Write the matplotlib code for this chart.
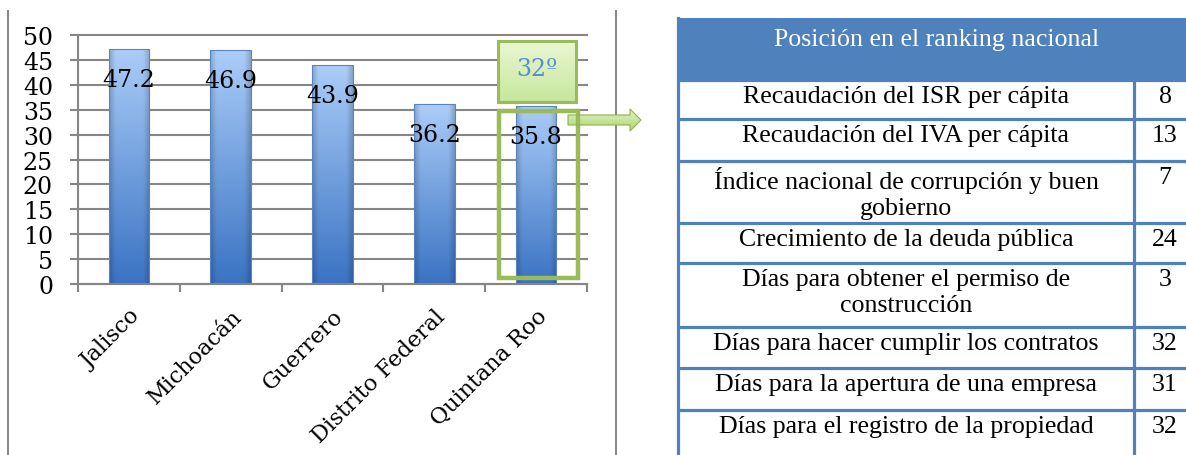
import numpy as np
import matplotlib
matplotlib.use('Agg')
import matplotlib.pyplot as plt
from matplotlib.patches import Rectangle, Polygon
from matplotlib.colors import to_rgb

# ---------------- data ----------------
categories = ['Jalisco', 'Michoacán', 'Guerrero', 'Distrito Federal', 'Quintana Roo']
values = [47.2, 46.9, 43.9, 36.2, 35.8]
y_ticks = [0, 5, 10, 15, 20, 25, 30, 35, 40, 45, 50]
callout_text = '32º'
table_title = 'Posición en el ranking nacional'
indicators = ['Recaudación del ISR per cápita',
              'Recaudación del IVA per cápita',
              'Índice nacional de corrupción y buen\ngobierno',
              'Crecimiento de la deuda pública',
              'Días para obtener el permiso de\nconstrucción',
              'Días para hacer cumplir los contratos',
              'Días para la apertura de una empresa',
              'Días para el registro de la propiedad']
ranks = [8, 13, 7, 24, 3, 32, 31, 32]

# ---------------- layout ----------------
W, H = 1186, 456
fig = plt.figure(figsize=(W / 100, H / 100), dpi=100)
fig.patch.set_facecolor('white')

GRAY = '#868686'
GREEN = '#9BBB59'
BLUE = '#4F81BD'
CHART_FONT = 'DejaVu Serif'
TABLE_FONT = 'Liberation Serif'


def gradient(c0, c1, n=100, m=30, edge_dark=0.0):
    c0 = np.array(to_rgb(c0)); c1 = np.array(to_rgb(c1))
    t = np.linspace(0, 1, n)[:, None, None]
    arr = c0 * (1 - t) + c1 * t
    arr = np.repeat(arr, m, axis=1)
    if edge_dark:
        u = np.linspace(-1, 1, m)
        f = 1 - edge_dark * np.clip((np.abs(u) - 0.7) / 0.3, 0, 1)
        arr = arr * f[None, :, None]
    return np.clip(arr, 0, 1)


# ---------------- chart axes ----------------
ax = fig.add_axes([78 / W, 1 - 285 / H, 509 / W, 249 / H])
x = np.arange(len(categories))
bars = ax.bar(x, values, width=0.4, facecolor='none', edgecolor='#5b83bd',
              linewidth=0.8, zorder=3)
for b in bars:
    x0 = b.get_x(); x1 = x0 + b.get_width(); h = b.get_height()
    im = ax.imshow(gradient('#3a73c3', '#abcdf8', edge_dark=0.18), origin='lower',
                   extent=(x0, x1, 0, h), aspect='auto', zorder=2,
                   interpolation='bilinear')
    im.set_clip_path(b)

for xi, v in zip(x, values):
    ax.annotate(f'{v}', (xi, v), xytext=(0, -22), textcoords='offset points',
                ha='center', va='center', fontsize=17, family=CHART_FONT,
                color='black', zorder=4)

ax.set_xlim(-0.5, len(categories) - 0.5)
ax.set_ylim(0, 50)
ax.set_yticks(y_ticks)
ax.set_yticklabels([str(t) for t in y_ticks], family=CHART_FONT, fontsize=17)
ax.yaxis.grid(True, color=GRAY, linewidth=1.5)
ax.set_axisbelow(True)
for gl in ax.get_ygridlines():
    gl.set_clip_on(False)
ax.tick_params(axis='y', length=6, width=1.5, color=GRAY, pad=12)

ax.set_xticks(x)
ax.set_xticklabels(categories, family=CHART_FONT, fontsize=16)
ax.set_xticks(np.arange(-0.5, len(categories), 1.0), minor=True)
ax.tick_params(axis='x', which='major', length=0, pad=15)
ax.tick_params(axis='x', which='minor', length=6, width=1.5, color=GRAY)
for lab in ax.get_xticklabels():
    lab.set_rotation(45)
    lab.set_ha('right')
    lab.set_rotation_mode('anchor')

for s in ['top', 'right']:
    ax.spines[s].set_visible(False)
for s in ['left', 'bottom']:
    ax.spines[s].set_color(GRAY)
    ax.spines[s].set_linewidth(1.5)
ax.patch.set_alpha(0)

# ---------------- overlay (pixel coordinates) ----------------
ov = fig.add_axes([0, 0, 1, 1], zorder=5)
ov.set_xlim(0, W); ov.set_ylim(H, 0)
ov.axis('off'); ov.patch.set_alpha(0)

# chart area borders
ov.plot([8, 8], [12, H], color=GRAY, lw=1.4)
ov.plot([616, 616], [12, H], color=GRAY, lw=1.4)

# callout box
cb = Rectangle((498, 42), 78, 61, facecolor='none', edgecolor=GREEN, lw=2.2, zorder=3)
ov.add_patch(cb)
im = ov.imshow(gradient('#eaf7d6', '#c6e79a'), origin='upper',
               extent=(498, 576, 103, 42), aspect='auto', zorder=2)
im.set_clip_path(cb)
ov.text(537, 70, callout_text, ha='center', va='center', fontsize=17,
        family=CHART_FONT, color='#558ed5', zorder=4)

# highlight rectangle around the last bar
ov.add_patch(Rectangle((499, 112), 79, 167, facecolor='none', edgecolor=GREEN,
                       lw=3.2, zorder=3))

# arrow
arrow = Polygon([(568, 116), (630, 116), (630, 110), (641, 121), (630, 132),
                 (630, 126), (568, 126)], closed=True, facecolor='none',
                edgecolor='#8fb04e', lw=0.8, zorder=3)
ov.add_patch(arrow)
im = ov.imshow(gradient('#e4f5c8', '#a9d46a'), origin='upper',
               extent=(568, 641, 132, 110), aspect='auto', zorder=2)
im.set_clip_path(arrow)

# table
TX0, TX1, TDIV = 678, 1196, 1134
row_edges = [81, 120, 162, 224, 264, 328, 369, 411, 456]
ov.add_patch(Rectangle((TX0, 19), TX1 - TX0, 81 - 19, facecolor=BLUE,
                       edgecolor='none', zorder=2))
ov.text((TX0 + TX1) / 2, 40, table_title, ha='center', va='center', color='white',
        fontsize=18.6, family=TABLE_FONT, zorder=4)
for yb in row_edges[:-1]:
    ov.plot([TX0, TX1], [yb, yb], color=BLUE, lw=2.3, zorder=3, solid_capstyle='butt')
ov.plot([TX0, TX0], [19, H], color=BLUE, lw=2.3, zorder=3)
ov.plot([TDIV, TDIV], [81, H], color=BLUE, lw=2.3, zorder=3)

for i, (lab, rk) in enumerate(zip(indicators, ranks)):
    top = row_edges[i]
    ov.text((TX0 + TDIV) / 2, top + 5, lab, ha='center', va='top', fontsize=18.6,
            family=TABLE_FONT, linespacing=1.22, zorder=4)
    ov.text((TDIV + TX1) / 2, top + 5, str(rk), ha='center', va='top', fontsize=18.6,
            family=TABLE_FONT, zorder=4)

ov.set_xlim(0, W); ov.set_ylim(H, 0)
ax.set_xlim(-0.5, len(categories) - 0.5); ax.set_ylim(0, 50)

fig.savefig('out.png', dpi=100)
